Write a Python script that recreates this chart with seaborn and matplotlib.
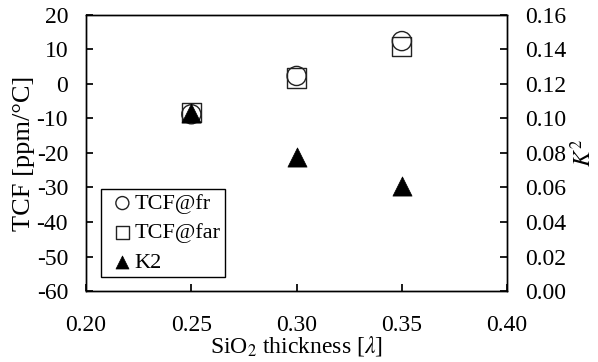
import matplotlib as mpl
import matplotlib.pyplot as plt
import pandas as pd
import seaborn as sns

# data
thickness = [0.25, 0.30, 0.35]
tcf_fr = [-8.8, 2.3, 12.4]
tcf_far = [-8.2, 1.7, 10.9]
k2 = [0.103, 0.0775, 0.061]

sns.set_theme(style='ticks')
mpl.rcParams.update({
    'font.family': ['Liberation Serif', 'DejaVu Serif'],
    'mathtext.fontset': 'stix',
    'font.size': 17,
    'axes.labelsize': 17,
    'axes.linewidth': 1.0,
    'xtick.direction': 'in',
    'ytick.direction': 'in',
    'xtick.major.size': 5,
    'ytick.major.size': 5,
    'xtick.labelsize': 17,
    'ytick.labelsize': 17,
    'axes.edgecolor': 'black',
    'xtick.color': 'black',
    'ytick.color': 'black',
    'axes.labelcolor': 'black',
    'text.color': 'black',
})

df = pd.DataFrame({'x': thickness, 'fr': tcf_fr, 'far': tcf_far, 'k2': k2})

fig = plt.figure(figsize=(5.98, 3.62), dpi=100)
ax = fig.add_axes([0.144, 0.196, 0.704, 0.763])
ax2 = ax.twinx()

sns.scatterplot(data=df, x='x', y='fr', ax=ax, marker='o', s=190,
                facecolor='none', edgecolor='#222222', linewidth=1.0,
                label='TCF@fr', legend=False, zorder=3)
sns.scatterplot(data=df, x='x', y='far', ax=ax, marker='s', s=190,
                facecolor='none', edgecolor='#222222', linewidth=1.0,
                label='TCF@far', legend=False, zorder=2)
sns.scatterplot(data=df, x='x', y='k2', ax=ax2, marker='^', s=190,
                color='black', edgecolor='black', linewidth=0.5,
                label='K2', legend=False)

ax.set_xlim(0.20, 0.40)
ax.set_ylim(-60, 20)
xt = [0.20, 0.25, 0.30, 0.35, 0.40]
ax.set_xticks(xt)
ax.set_xticklabels([f'{v:.2f}' for v in xt])
yt = list(range(-60, 21, 10))
ax.set_yticks(yt)
ax.set_yticklabels([str(v) for v in yt])
ax2.set_ylim(0, 0.16)
kt = [i * 0.02 for i in range(9)]
ax2.set_yticks(kt)
ax2.set_yticklabels([f'{v:.2f}' for v in kt])
ax.tick_params(axis='x', pad=17)
ax.tick_params(axis='y', pad=13)
ax2.tick_params(axis='y', pad=13)

ax.set_xlabel(r'SiO$_2$ thickness [$\lambda$]', labelpad=-1)
ax.set_ylabel('TCF [ppm/\u00b0C]', labelpad=1, fontsize=19)
ax2.set_ylabel(r'$K^2$', rotation=90, labelpad=3)

h1, l1 = ax.get_legend_handles_labels()
h2, l2 = ax2.get_legend_handles_labels()
leg = ax.legend(h1 + h2, l1 + l2, loc='lower left',
                bbox_to_anchor=(0.036, 0.05), borderaxespad=0,
                frameon=True, fancybox=False, edgecolor='black',
                handletextpad=-0.2, labelspacing=0.4, handlelength=1.5,
                markerscale=0.68, fontsize=16, borderpad=0.2)
leg.get_frame().set_linewidth(1.0)
leg.get_frame().set_alpha(1)

fig.savefig('out.png', dpi=100)
